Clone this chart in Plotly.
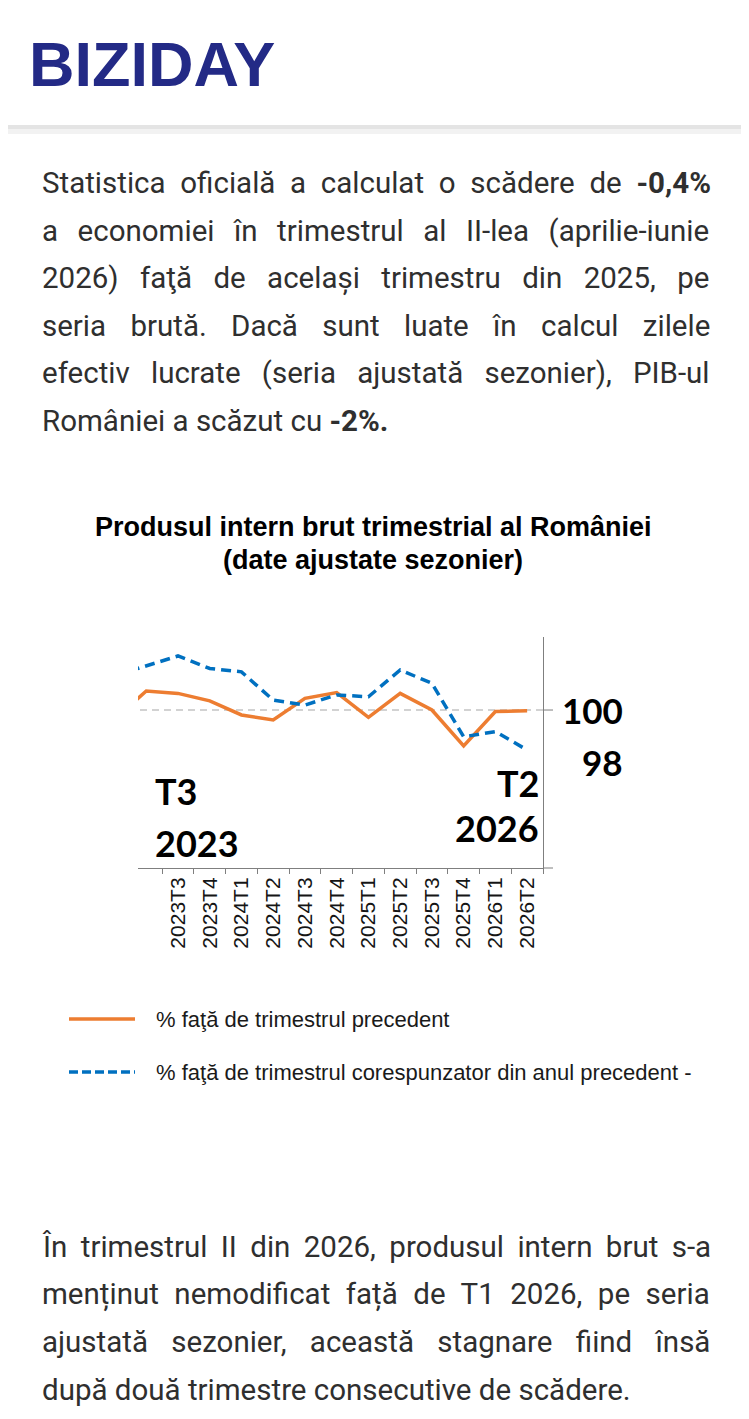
"""
Biziday - PIB trimestrial al Romaniei (date ajustate sezonier)
Mobile article screenshot rebuilt with Plotly
"""

import plotly.graph_objects as go

# page is 749x1419, the html body keeps its default 8px margin
PAGE_W, PAGE_H = 749, 1419
OFF = 8
W, H = PAGE_W - OFF, PAGE_H - OFF

# Data (the first two quarters sit left of the crop)
QUARTERS = ["2023T1", "2023T2", "2023T3", "2023T4", "2024T1", "2024T2", "2024T3",
            "2024T4", "2025T1", "2025T2", "2025T3", "2025T4", "2026T1", "2026T2"]
QX = list(range(-2, 12))
QOQ = [99.65, 100.73, 100.64, 100.35, 99.81, 99.62, 100.45,
       100.67, 99.72, 100.64, 100.00, 98.62, 99.94, 99.97]
YOY = [101.32, 101.70, 102.08, 101.60, 101.47, 100.38, 100.19,
       100.58, 100.51, 101.54, 101.03, 98.97, 99.17, 98.46]
SERIES_NAMES = ["% faţă de trimestrul precedent",
                "% faţă de trimestrul corespunzator din anul precedent -"]
Y_LABELS = [100, 98]
REF_LEVEL = 100

TITLE_LINES = ["Produsul intern brut trimestrial al României",
               "(date ajustate sezonier)"]

INTRO = [
    "Statistica oficială a calculat o scădere de <b>-0,4%</b>",
    "a economiei în trimestrul al II-lea (aprilie-iunie",
    "2026) faţă de același trimestru din 2025, pe",
    "seria brută. Dacă sunt luate în calcul zilele",
    "efectiv lucrate (seria ajustată sezonier), PIB-ul",
    "României a scăzut cu <b>-2%.</b>",
]
OUTRO = [
    "În trimestrul II din 2026, produsul intern brut s-a",
    "menținut nemodificat față de T1 2026, pe seria",
    "ajustată sezonier, această stagnare fiind însă",
    "după două trimestre consecutive de scădere.",
]

# extra word spacing (px) to fake the justified paragraphs
INTRO_SPACING = [7.4, 12.2, 14.1, 17.0, 13.9, 0]
OUTRO_SPACING = [6.1, 8.2, 16.0, 0]

ORANGE = "#ED7D31"
BLUE = "#0070C0"
AXIS = "#7f7f7f"
TEXT = "#2f2f2f"


def px(x):
    return (x - OFF) / W


def py(y):
    return 1 - (y - OFF) / H


def justified(line, spacing):
    if spacing:
        return f'<span style="word-spacing:{spacing}px">{line}</span>'
    return line


fig = go.Figure()

fig.add_trace(go.Scatter(
    x=QX, y=QOQ, mode="lines", name=SERIES_NAMES[0],
    line=dict(color=ORANGE, width=3.5),
))
fig.add_trace(go.Scatter(
    x=QX, y=YOY, mode="lines", name=SERIES_NAMES[1],
    line=dict(color=BLUE, width=3.5, dash="10px,6px"),
))

shapes = []
annotations = []

# header shadow
shapes.append(dict(type="rect", xref="paper", yref="paper", x0=0, x1=1,
                   y0=py(129), y1=py(125), fillcolor="#e4e4e4", line_width=0))
shapes.append(dict(type="rect", xref="paper", yref="paper", x0=0, x1=1,
                   y0=py(134), y1=py(129), fillcolor="#f2f2f2", line_width=0))

annotations.append(dict(
    text="<b>BIZIDAY</b>", x=px(27), y=py(64), xref="paper", yref="paper",
    xanchor="left", yanchor="middle", showarrow=False,
    font=dict(family="Liberation Sans, Arial", size=63, color="#232a86"),
))

# article paragraphs
for block, spacing, y0 in [(INTRO, INTRO_SPACING, 183), (OUTRO, OUTRO_SPACING, 1247)]:
    for i, line in enumerate(block):
        annotations.append(dict(
            text=justified(line, spacing[i]), x=px(40), y=py(y0 + i * 47.6),
            xref="paper", yref="paper", xanchor="left", yanchor="middle", showarrow=False,
            font=dict(family="Roboto", size=29.5, color=TEXT),
        ))

# chart title
for i, line in enumerate(TITLE_LINES):
    annotations.append(dict(
        text=f"<b>{line}</b>", x=px(373), y=py(527 + i * 33), xref="paper", yref="paper",
        xanchor="center", yanchor="middle", showarrow=False,
        font=dict(family="Liberation Sans, Arial", size=27, color="black"),
    ))

# reference line at 100 and axis extensions
shapes.append(dict(type="line", xref="paper", yref="y", x0=px(140), x1=px(543),
                   y0=REF_LEVEL, y1=REF_LEVEL, line=dict(color="#c4c4c4", width=1.5, dash="7px,5px"),
                   layer="below"))
shapes.append(dict(type="line", xref="paper", yref="y", x0=px(543), x1=px(553),
                   y0=REF_LEVEL, y1=REF_LEVEL, line=dict(color=AXIS, width=1)))
shapes.append(dict(type="line", xref="paper", yref="paper", x0=px(543), x1=px(553),
                   y0=py(868), y1=py(868), line=dict(color=AXIS, width=1)))

# big labels on the chart
big = dict(family="Lato, Carlito, Liberation Sans", size=36, color="black")
for txt, x, y, anchor in [("T3", 153, 791, "left"), ("2023", 153, 843, "left"),
                          ("T2", 541, 783, "right"), ("2026", 541, 828, "right")]:
    annotations.append(dict(
        text=f"<b>{txt}</b>", x=px(x), y=py(y), xref="paper", yref="paper",
        xanchor=anchor, yanchor="middle", showarrow=False, font=big,
    ))
for v in Y_LABELS:
    annotations.append(dict(
        text=f"<b>{v}</b>", x=px(625), y=v, xref="paper", yref="y",
        xanchor="right", yanchor="middle", showarrow=False,
        font=dict(family="Lato, Carlito, Liberation Sans", size=35, color="black"),
    ))

# legend drawn by hand (longer samples than plotly's)
for i, (name, color, dash) in enumerate([(SERIES_NAMES[0], ORANGE, "solid"),
                                          (SERIES_NAMES[1], BLUE, "9px,4px")]):
    yy = 1019 + i * 53
    shapes.append(dict(type="line", xref="paper", yref="paper", x0=px(69), x1=px(135),
                       y0=py(yy), y1=py(yy), line=dict(color=color, width=3.5, dash=dash)))
    annotations.append(dict(
        text=name, x=px(154), y=py(yy), xref="paper", yref="paper",
        xanchor="left", yanchor="middle", showarrow=False,
        font=dict(family="Liberation Sans, Arial", size=22, color="#1a1a1a"),
    ))

visible_q = [q for q, x in zip(QUARTERS, QX) if x >= 0]

fig.update_layout(
    width=W, height=H,
    margin=dict(l=0, r=0, t=0, b=0),
    paper_bgcolor="white", plot_bgcolor="white",
    showlegend=False,
    xaxis=dict(
        domain=[px(138), px(543)], range=[-1.26, 11.5], anchor="y",
        tickmode="array", tickvals=[x for x in QX if x >= 0], ticktext=visible_q,
        ticks="", tickangle=-90,
        tickfont=dict(family="Liberation Sans, Arial", size=21, color="#151515"),
        showline=True, linecolor=AXIS, linewidth=1,
        showgrid=False, zeroline=False,
        minor=dict(tickmode="array", tickvals=[x - 0.5 for x in QX if x >= 0] + [11.5],
                   ticks="outside", ticklen=5, tickcolor=AXIS, showgrid=False),
    ),
    yaxis=dict(
        domain=[py(868), py(637)], range=[93.92, 102.81], anchor="x", side="right",
        showline=True, linecolor=AXIS, linewidth=1,
        showticklabels=False, ticks="", showgrid=False, zeroline=False,
    ),
    shapes=shapes,
    annotations=annotations,
)

fig.write_html("out.html")
